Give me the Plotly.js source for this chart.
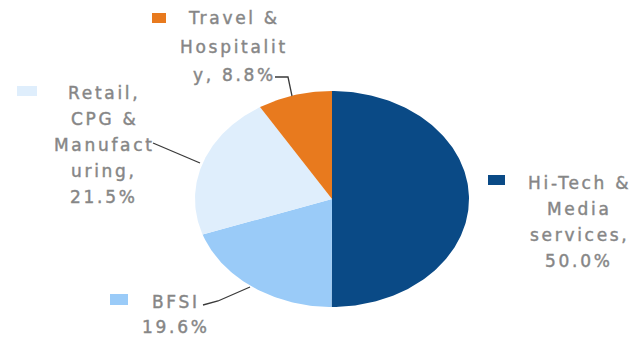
<!DOCTYPE html>
<html>
<head>
<meta charset="utf-8">
<script src="https://cdn.plot.ly/plotly-3.0.1.min.js"></script>
<style>
html,body{margin:0;padding:0;background:#fff;}
#chart{width:639px;height:337px;}
.annotation-text{letter-spacing:2.7px;stroke:#8a8a8a;stroke-width:0.45px;}
</style>
</head>
<body>
<div id="chart"></div>
<script>
// ---- data ----
const categories = ["Hi-Tech & Media services", "BFSI", "Retail, CPG & Manufacturing", "Travel & Hospitality"];
const values = [50.0, 19.6, 21.5, 8.8];
const labelLines = [
  ["Hi-Tech &", "Media", "services,"],
  ["BFSI"],
  ["Retail,", "CPG &", "Manufact", "uring,"],
  ["Travel &", "Hospitalit", "y,"]
];
const sliceColors = ["#0A4A86", "#9ACBF8", "#DFEEFC", "#E87A1E"];

// ---- layout constants (positions / styles) ----
const CX = 332, CY = 199, RX = 137, RY = 108;
const labelPos = [
  {x: 579, y0: 183, dy: 26, sq: [488, 175, 505, 185]},
  {x: 176, y0: 302, dy: 25, sq: [110, 294, 128, 305]},
  {x: 104, y0: 93, dy: 26, sq: [17, 86, 37, 96]},
  {x: 234, y0: 18, dy: 28.5, sq: [152, 13, 166, 23]}
];
const leaders = [
  null,
  "M 203,305 L 218,301 L 250,287",
  "M 153,143 L 200,163",
  "M 275,77 L 288,77 L 292,96"
];

const total = values.reduce((a, b) => a + b, 0);
const traces = [];
let cum = 0;
values.forEach((v, i) => {
  const f0 = cum / total, f1 = (cum + v) / total;
  cum += v;
  const xs = [CX], ys = [CY];
  const n = Math.max(4, Math.ceil((f1 - f0) * 360));
  for (let k = 0; k <= n; k++) {
    const t = 2 * Math.PI * (f0 + (f1 - f0) * k / n);
    xs.push(CX + RX * Math.sin(t));
    ys.push(CY - RY * Math.cos(t));
  }
  xs.push(CX); ys.push(CY);
  traces.push({
    type: "scatter", mode: "lines", x: xs, y: ys, fill: "toself",
    fillcolor: sliceColors[i], line: {width: 0, color: sliceColors[i]},
    name: categories[i], hoverinfo: "name", showlegend: false
  });
});

const annotations = [];
const shapes = [];
labelLines.forEach((lines, i) => {
  const p = labelPos[i];
  const pct = values[i].toFixed(1) + "%";
  const all = lines.slice();
  if (i === 3) all[all.length - 1] = all[all.length - 1] + " " + pct; else all.push(pct);
  all.forEach((t, k) => {
    annotations.push({
      x: p.x, y: p.y0 + k * p.dy, xref: "x", yref: "y", text: t, showarrow: false,
      xanchor: "center", yanchor: "middle",
      font: {family: "DejaVu Sans", size: 17, color: "#858585"}
    });
  });
  shapes.push({type: "rect", xref: "x", yref: "y", x0: p.sq[0], y0: p.sq[1], x1: p.sq[2], y1: p.sq[3],
    fillcolor: sliceColors[i], line: {width: 0}});
  if (leaders[i]) shapes.push({type: "path", xref: "x", yref: "y", path: leaders[i],
    line: {color: "#3a3a3a", width: 1.3}});
});

const layout = {
  width: 639, height: 337,
  margin: {l: 0, r: 0, t: 0, b: 0},
  paper_bgcolor: "#ffffff", plot_bgcolor: "#ffffff",
  xaxis: {range: [0, 639], visible: false, fixedrange: true},
  yaxis: {range: [337, 0], visible: false, fixedrange: true},
  annotations: annotations, shapes: shapes, showlegend: false
};
Plotly.newPlot("chart", traces, layout, {displayModeBar: false, staticPlot: true});
</script>
</body>
</html>
